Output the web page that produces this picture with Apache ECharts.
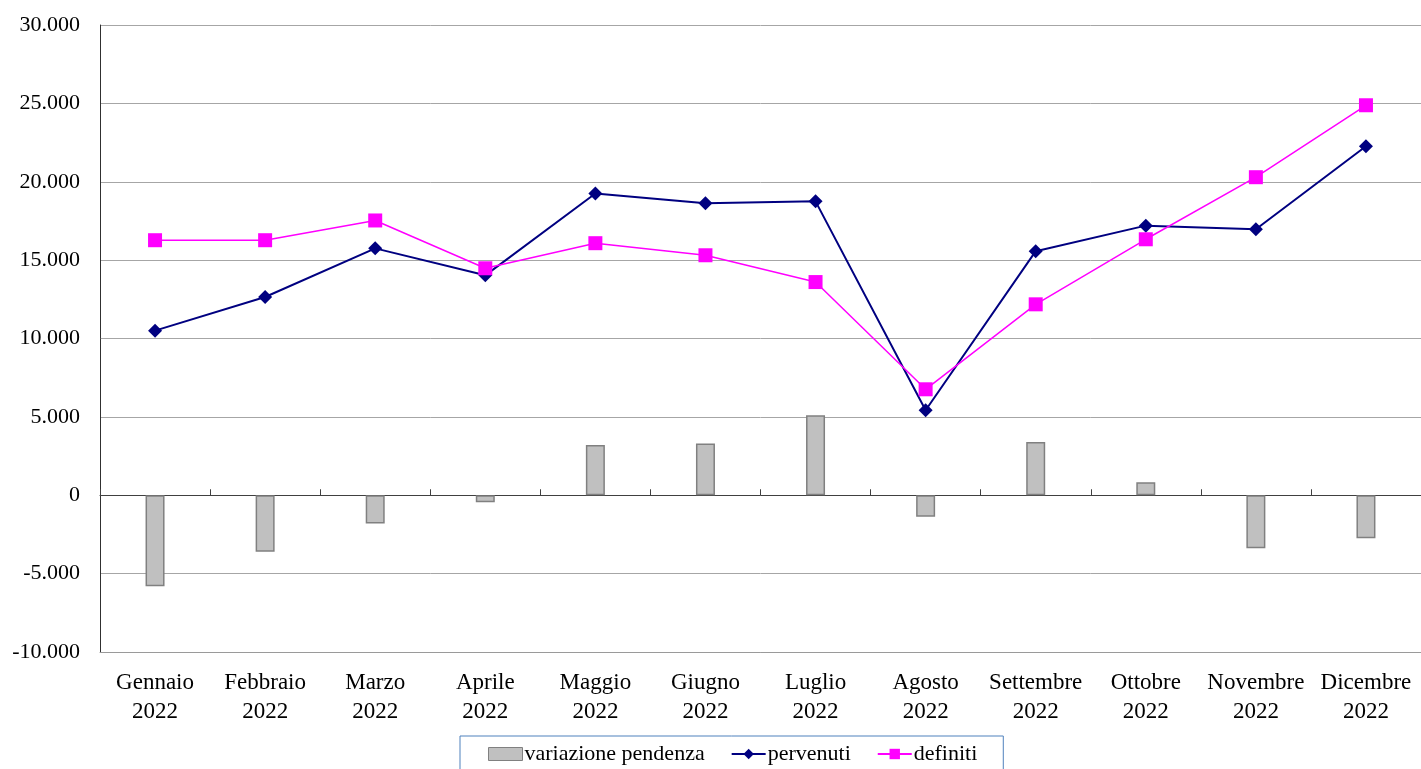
<!DOCTYPE html>
<html><head><meta charset="utf-8">
<script src="https://cdn.jsdelivr.net/npm/echarts@6/dist/echarts.min.js"></script>
<style>html,body{margin:0;padding:0;background:#fff}#c{width:1421px;height:769px}</style>
</head><body><div id="c"></div>
<script>
const categories = ['Gennaio\n2022','Febbraio\n2022','Marzo\n2022','Aprile\n2022','Maggio\n2022','Giugno\n2022','Luglio\n2022','Agosto\n2022','Settembre\n2022','Ottobre\n2022','Novembre\n2022','Dicembre\n2022'];
const variazione = [-5800, -3600, -1800, -450, 3200, 3300, 5100, -1370, 3400, 830, -3380, -2740];
const pervenuti = [10500, 12650, 15750, 14030, 19250, 18630, 18750, 5420, 15570, 17200, 16970, 22260];
const definiti = [16270, 16270, 17530, 14480, 16080, 15310, 13600, 6760, 12180, 16330, 20290, 24880];
const yTicks = {min: -10000, max: 30000, interval: 5000};

const font = '"Liberation Serif", "DejaVu Serif", serif';
const fmt = v => { const s = Math.abs(v).toString().replace(/\B(?=(\d{3})+(?!\d))/g, '.'); return (v < 0 ? '-' : '') + s; };

const chart = echarts.init(document.getElementById('c'));
chart.setOption({
  animation: false,
  textStyle: {fontFamily: font},
  grid: {left: 100, right: -4, top: 25, bottom: 117, containLabel: false},
  legend: {
    left: 460, top: 736, padding: [7, 26, 20, 28], itemGap: 26,
    borderColor: '#4f81bd', borderWidth: 1,
    itemWidth: 34, itemHeight: 13,
    textStyle: {fontFamily: font, fontSize: 22, color: '#000', padding: [0, 0, 0, -3]},
    data: [
      {name: 'variazione pendenza', icon: 'rect', itemStyle: {color: '#c0c0c0', borderColor: '#808080', borderWidth: 1}},
      {name: 'pervenuti'},
      {name: 'definiti'}
    ]
  },
  xAxis: [
    {type: 'category', data: categories, position: 'bottom',
     axisLine: {onZero: false, lineStyle: {color: '#9a9a9a', width: 1}},
     axisTick: {show: false},
     axisLabel: {color: '#000', fontFamily: font, fontSize: 23, lineHeight: 29, margin: 16, interval: 0},
     splitLine: {show: false}},
    {type: 'category', data: categories, position: 'bottom',
     axisLine: {onZero: true, lineStyle: {color: '#404040', width: 1}},
     axisTick: {show: true, inside: true, length: 6, lineStyle: {color: '#404040'}},
     axisLabel: {show: false}, splitLine: {show: false}}
  ],
  yAxis: {
    type: 'value', min: yTicks.min, max: yTicks.max, interval: yTicks.interval,
    axisLine: {show: true, lineStyle: {color: '#303030', width: 1}},
    axisTick: {show: false},
    axisLabel: {color: '#000', fontFamily: font, fontSize: 22, margin: 20, formatter: fmt},
    splitLine: {lineStyle: {color: '#a6a6a6', width: 1}}
  },
  series: [
    {name: 'variazione pendenza', type: 'bar', data: variazione, barWidth: 19,
     itemStyle: {color: '#c0c0c0', borderColor: '#808080', borderWidth: 1.5}},
    {name: 'pervenuti', type: 'line', data: pervenuti, symbol: 'diamond', symbolSize: 14,
     lineStyle: {color: '#000080', width: 2}, itemStyle: {color: '#000080'}},
    {name: 'definiti', type: 'line', data: definiti, symbol: 'rect', symbolSize: 14,
     lineStyle: {color: '#ff00ff', width: 1.5}, itemStyle: {color: '#ff00ff'}}
  ]
});
</script></body></html>
